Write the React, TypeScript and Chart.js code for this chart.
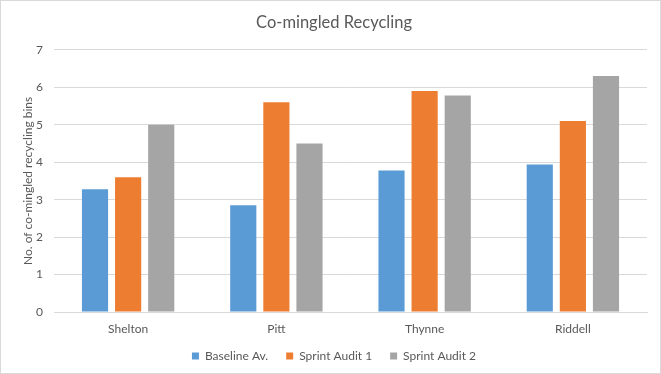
import React, { useEffect, useRef } from "react";
import { Chart, registerables } from "chart.js";

Chart.register(...registerables);

const categories = ["Shelton", "Pitt", "Thynne", "Riddell"];
const baselineAv = [3.28, 2.85, 3.78, 3.94];
const sprintAudit1 = [3.6, 5.6, 5.9, 5.1];
const sprintAudit2 = [5.0, 4.5, 5.78, 6.3];
const seriesNames = ["Baseline Av.", "Sprint Audit 1", "Sprint Audit 2"];
const titleText = "Co-mingled Recycling";
const yTitle = "No. of co-mingled recycling bins";

const FONT = "Lato, 'Open Sans', sans-serif";
const TEXT = "#595959";

export default function App() {
  const ref = useRef<HTMLCanvasElement | null>(null);
  useEffect(() => {
    document.body.style.margin = "0";
    const ctx = ref.current!;
    const chart = new Chart(ctx, {
      type: "bar",
      data: {
        labels: categories,
        datasets: [
          { label: seriesNames[0], data: baselineAv, backgroundColor: "#5b9bd5" },
          { label: seriesNames[1], data: sprintAudit1, backgroundColor: "#ed7d31" },
          { label: seriesNames[2], data: sprintAudit2, backgroundColor: "#a5a5a5" },
        ],
      },
      options: {
        animation: false,
        responsive: false,
        maintainAspectRatio: false,
        layout: { padding: { left: 20, right: 13, top: 8, bottom: 1 } },
        datasets: { bar: { barPercentage: 0.79, categoryPercentage: 0.67 } },
        plugins: {
          title: {
            display: true,
            text: titleText,
            color: TEXT,
            font: { family: FONT, size: 16.5, weight: "normal" },
            padding: { top: 4, bottom: 17 },
          },
          legend: {
            position: "bottom",
            labels: {
              boxWidth: 7,
              boxHeight: 7,
              color: TEXT,
              padding: 18,
              font: { family: FONT, size: 12 },
            },
          },
          tooltip: { enabled: false },
        },
        scales: {
          x: {
            grid: { display: false, drawTicks: false },
            border: { color: "#d9d9d9" },
            ticks: { color: TEXT, font: { family: FONT, size: 12 }, padding: 10 },
            afterFit: (s: any) => {
              s.height = 20;
              s._computeLabelArea = () => undefined;
            },
          },
          y: {
            min: 0,
            max: 7,
            ticks: { stepSize: 1, color: TEXT, font: { family: FONT, size: 12 }, padding: 11 },
            grid: { color: "#d9d9d9", drawTicks: false },
            border: { display: false },
            title: {
              display: true,
              text: yTitle,
              color: TEXT,
              font: { family: FONT, size: 12 },
              padding: { top: 0, bottom: 4 },
            },
            afterFit: (s: any) => {
              s.width = 33;
            },
          },
        },
      },
    });
    return () => chart.destroy();
  }, []);
  return (
    <div
      style={{
        position: "absolute",
        left: 0,
        top: 0,
        width: 661,
        height: 374,
        border: "1px solid #d9d9d9",
        boxSizing: "border-box",
        background: "#fff",
      }}
    >
      <canvas ref={ref} width={659} height={372} style={{ display: "block" }} />
    </div>
  );
}
